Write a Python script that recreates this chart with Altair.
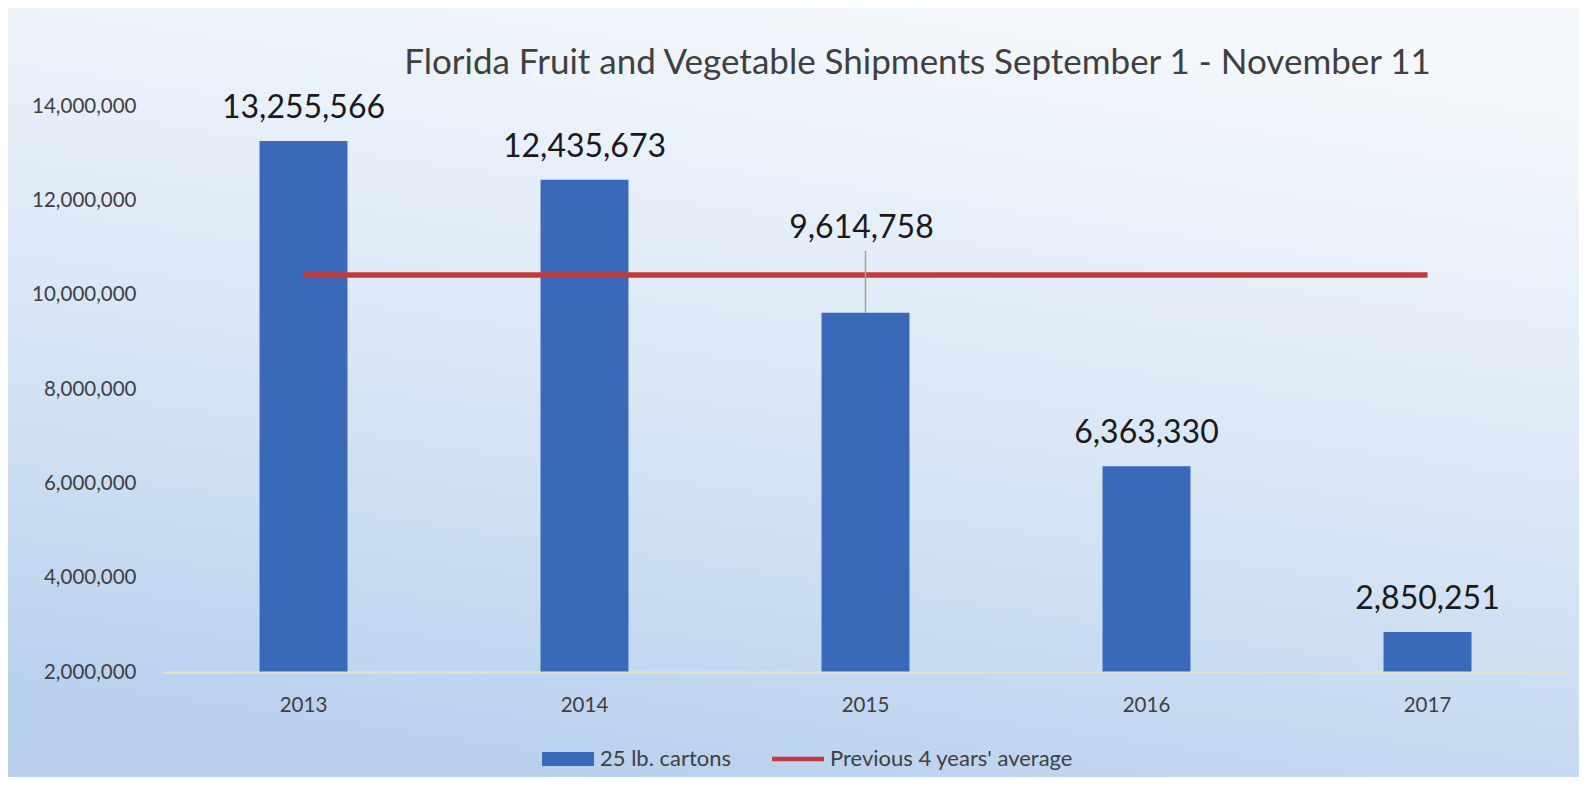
import altair as alt
import pandas as pd

# ---- data ----
years = ["2013", "2014", "2015", "2016", "2017"]
cartons = [13255566, 12435673, 9614758, 6363330, 2850251]
avg_years = ["2013", "2017"]
avg_value = 10417332
bar_series = "25 lb. cartons"
line_series = "Previous 4 years' average"
y_ticks = [2000000, 4000000, 6000000, 8000000, 10000000, 12000000, 14000000]
title_text = "Florida Fruit and Vegetable Shipments September 1 -  November 11"

bars_df = pd.DataFrame({"year": years, "value": cartons, "series": bar_series})
avg_df = pd.DataFrame({"year": avg_years, "value": [avg_value] * len(avg_years), "series": line_series})
bg_df = pd.DataFrame({"k": [0]})

W, H = 1405, 566
PAD = {"left": 155, "top": 98, "right": 11, "bottom": 105}
FONT = "Lato"
BLUE = "#3b69b9"
RED = "#c43a3a"

x_enc = alt.X(
    "year:O",
    scale=alt.Scale(domain=years, paddingInner=0.687, paddingOuter=0.3435),
    axis=alt.Axis(
        title=None, labelAngle=0, labelFont=FONT, labelFontSize=20.5,
        labelColor="#404040", labelPadding=33, labelBaseline="middle",
        ticks=False, domainColor="#e6e3c8", domainWidth=2, zindex=2,
    ),
)
y_enc = alt.Y(
    "value:Q",
    scale=alt.Scale(domain=[2000000, 14000000], zero=False, nice=False),
    axis=alt.Axis(
        title=None, values=y_ticks, format=",d", labelFont=FONT, labelFontSize=20.5,
        labelColor="#404040", labelPadding=27, ticks=False, domain=False,
        grid=False, zindex=2,
    ),
)

color_enc = alt.Color(
    "series:N",
    scale=alt.Scale(domain=[bar_series, line_series], range=[BLUE, RED]),
    legend=alt.Legend(
        title=None, orient="none", legendX=379, legendY=627, direction="horizontal",
        labelFont=FONT, labelFontSize=22, labelColor="#404040", labelLimit=500,
        symbolSize=2704, labelOffset=6, columnPadding=40, zindex=2,
        symbolType={"expr": "datum.value == '25 lb. cartons' ? 'M-1,-0.27H1V0.27H-1Z' : 'M-1,-0.085H1V0.085H-1Z'"},
        symbolStrokeWidth=0, symbolOpacity=1,
    ),
)

bg = alt.Chart(bg_df).mark_rect(
    color=alt.LinearGradient(
        gradient="linear",
        stops=[
            alt.GradientStop(color="#f4f8fc", offset=0),
            alt.GradientStop(color="#e3edf8", offset=0.35),
            alt.GradientStop(color="#cedff3", offset=0.7),
            alt.GradientStop(color="#b8d0ee", offset=1),
        ],
        x1=0.65, x2=0.35, y1=0, y2=1,
    )
).encode(
    x=alt.value(-PAD["left"]), x2=alt.value(W + PAD["right"]),
    y=alt.value(-PAD["top"]), y2=alt.value(H + PAD["bottom"]),
)

bars = alt.Chart(bars_df).mark_bar().encode(
    x=x_enc, y=y_enc, y2=alt.datum(2000000), color=color_enc
)

line = alt.Chart(avg_df).mark_line(strokeWidth=5.5).encode(
    x=x_enc, y=y_enc, color=color_enc
)

labels = alt.Chart(bars_df).transform_filter("datum.year != '2015'").mark_text(
    font=FONT, fontSize=32, dy=-33, color="#1a1a1a", baseline="middle"
).encode(x=x_enc, y=y_enc, text=alt.Text("value:Q", format=","))

leader = alt.Chart(bars_df).transform_filter("datum.year == '2015'").mark_rule(
    color="#a3a38e", strokeWidth=1.5, y2Offset=-62
).encode(x=x_enc, y=y_enc, y2=alt.Y2("value:Q"))

label_2015 = alt.Chart(bars_df).transform_filter("datum.year == '2015'").mark_text(
    font=FONT, fontSize=32, dy=-85, dx=-4, color="#1a1a1a", baseline="middle"
).encode(x=x_enc, y=y_enc, text=alt.Text("value:Q", format=","))

chart = alt.layer(bg, bars, line, labels, leader, label_2015).properties(
    width=W, height=H,
    autosize=alt.AutoSizeParams(type="none"),
    padding=PAD,
    background="#eef4fb",
    title=alt.TitleParams(
        title_text, font=FONT, fontSize=35, fontWeight="normal", color="#404040",
        anchor="middle", dx=52, dy=134, offset=33, baseline="alphabetic", zindex=2,
    ),
).configure_view(stroke=None)

chart.save("out.html", embed_options={"renderer": "svg", "actions": False})
